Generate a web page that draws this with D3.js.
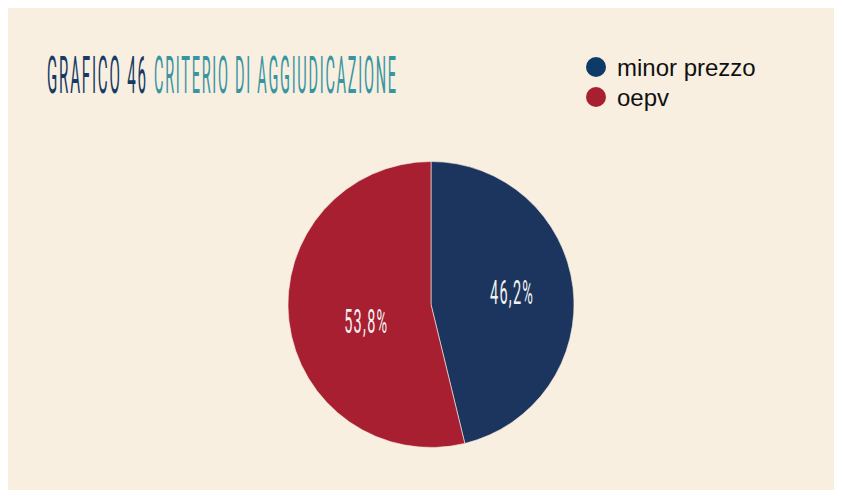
<!DOCTYPE html>
<html>
<head>
<meta charset="utf-8">
<script src="https://cdn.jsdelivr.net/npm/d3@7"></script>
<style>
  html, body { margin: 0; padding: 0; background: #ffffff; }
  svg { display: block; }
</style>
</head>
<body>
<svg id="chart" width="842" height="498"></svg>
<script>
// Criterio di aggiudicazione: share of contracts by award criterion
const categories = ["minor prezzo", "oepv"];
const values = [46.2, 53.8];
const valueLabels = ["46,2%", "53,8%"];
const colors = ["#1c355e", "#a71f31"];
const legendColors = ["#0e3a68", "#a71f31"];

const titleNumber = "GRAFICO 46";
const titleText = "CRITERIO DI AGGIUDICAZIONE";

const svg = d3.select("#chart");

// cream panel
svg.append("rect")
  .attr("x", 8).attr("y", 8)
  .attr("width", 826).attr("height", 482)
  .attr("fill", "#f8efe1");

// Tall, narrow display text: draw at normal width, then squeeze horizontally
// so the run fits the given width.
const displayFont = "Roboto, 'Liberation Sans Narrow', sans-serif";
function condensedText(parent, str, x, y, width, size, fill, anchor, spacing) {
  const t = parent.append("text")
    .attr("font-family", displayFont)
    .attr("font-size", size)
    .attr("font-weight", 400)
    .attr("letter-spacing", spacing || 0)
    .attr("fill", fill)
    .text(str);
  const bb = t.node().getBBox();
  const w = bb.width - (spacing || 0);
  const sx = width / w;
  const x0 = anchor === "middle" ? x - width / 2 : x;
  t.attr("transform", `translate(${x0},${y}) scale(${sx},1)`);
  return t;
}

// title
condensedText(svg, titleNumber, 47, 92.5, 99, 51, "#163a63", "start", 6);
condensedText(svg, titleText, 154, 92.5, 242, 51, "#3795a0", "start", 6);

// legend
const legend = svg.append("g");
const legendY = d3.scalePoint().domain(categories).range([67, 97]);
categories.forEach((c, i) => {
  legend.append("circle")
    .attr("cx", 596).attr("cy", legendY(c))
    .attr("r", 10)
    .attr("fill", legendColors[i]);
  legend.append("text")
    .attr("x", 617).attr("y", legendY(c) + 8.5)
    .attr("font-family", "'Liberation Sans', Arial, sans-serif")
    .attr("font-size", 24)
    .attr("fill", "#111111")
    .text(c);
});

// pie
const cx = 431, cy = 304.5, R = 143;
const pie = d3.pie().sort(null).value(d => d)(values);
const arc = d3.arc().innerRadius(0).outerRadius(R);

const g = svg.append("g").attr("transform", `translate(${cx},${cy})`);
g.selectAll("path.slice")
  .data(pie)
  .enter().append("path")
  .attr("class", "slice")
  .attr("d", arc)
  .attr("fill", (d, i) => colors[i])
  .attr("stroke", "#f8efe1")
  .attr("stroke-width", 0.6);

// value labels inside the slices
const labelRadius = [0.57, 0.47];
pie.forEach((d, i) => {
  const a = (d.startAngle + d.endAngle) / 2 - (i === 0 ? 0.04 : 0.12);
  const r = R * labelRadius[i];
  condensedText(g, valueLabels[i], Math.sin(a) * r, -Math.cos(a) * r + 12.5,
    43, 34, "#f2f2f2", "middle", 3);
});
</script>
</body>
</html>
